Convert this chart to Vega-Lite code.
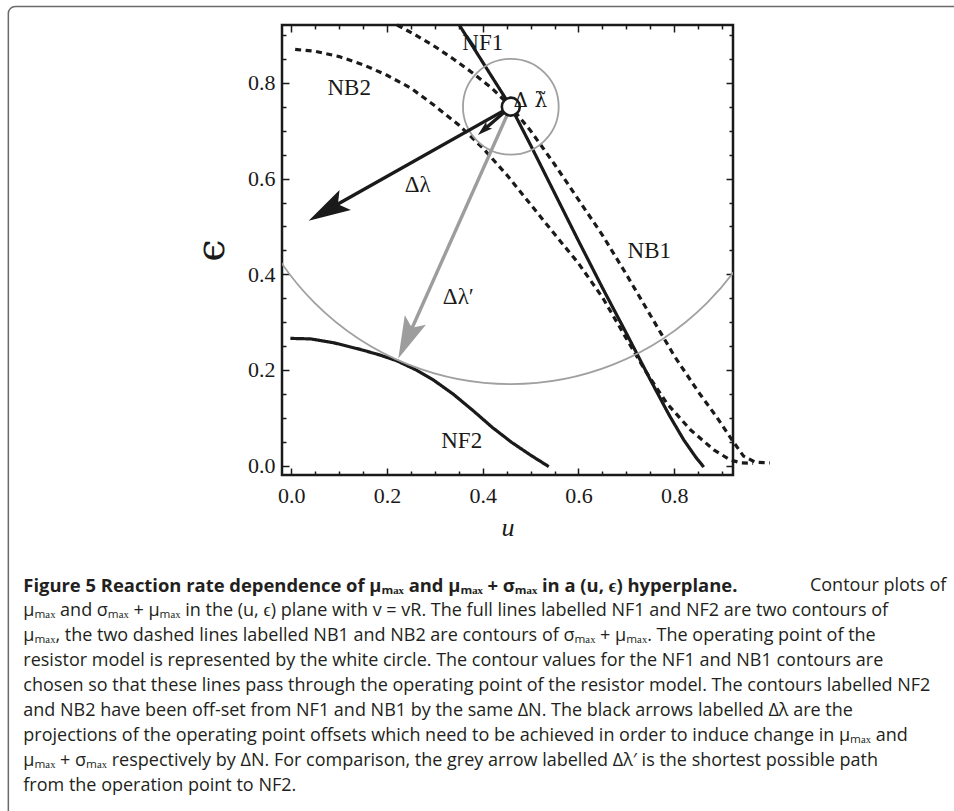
{
  "$schema": "https://vega.github.io/schema/vega-lite/v6.json",
  "width": 451,
  "height": 450,
  "autosize": {"type": "none"},
  "padding": {"left": 282, "top": 25, "right": 221, "bottom": 336},
  "background": "white",
  "config": {
    "view": {"stroke": "#1a1a1a", "strokeWidth": 2.5},
    "axis": {"grid": false, "domain": false}
  },
  "datasets": {
    "frame": [{"u1": -0.5914, "e1": 0.9597, "u2": 1.4, "e2": -0.76}],
    "curves": [
      {"curve": "NF1", "quantity": "μmax", "i": 0, "u": 0.351, "eps": 0.921},
      {"curve": "NF1", "quantity": "μmax", "i": 1, "u": 0.40, "eps": 0.843},
      {"curve": "NF1", "quantity": "μmax", "i": 2, "u": 0.4587, "eps": 0.7503},
      {"curve": "NF1", "quantity": "μmax", "i": 3, "u": 0.50, "eps": 0.670},
      {"curve": "NF1", "quantity": "μmax", "i": 4, "u": 0.55, "eps": 0.570},
      {"curve": "NF1", "quantity": "μmax", "i": 5, "u": 0.60, "eps": 0.470},
      {"curve": "NF1", "quantity": "μmax", "i": 6, "u": 0.65, "eps": 0.372},
      {"curve": "NF1", "quantity": "μmax", "i": 7, "u": 0.70, "eps": 0.277},
      {"curve": "NF1", "quantity": "μmax", "i": 8, "u": 0.75, "eps": 0.180},
      {"curve": "NF1", "quantity": "μmax", "i": 9, "u": 0.79, "eps": 0.105},
      {"curve": "NF1", "quantity": "μmax", "i": 10, "u": 0.82, "eps": 0.054},
      {"curve": "NF1", "quantity": "μmax", "i": 11, "u": 0.845, "eps": 0.018},
      {"curve": "NF1", "quantity": "μmax", "i": 12, "u": 0.862, "eps": -0.003},
      {"curve": "NF2", "quantity": "μmax", "i": 0, "u": -0.002, "eps": 0.266},
      {"curve": "NF2", "quantity": "μmax", "i": 1, "u": 0.04, "eps": 0.265},
      {"curve": "NF2", "quantity": "μmax", "i": 2, "u": 0.088, "eps": 0.257},
      {"curve": "NF2", "quantity": "μmax", "i": 3, "u": 0.144, "eps": 0.243},
      {"curve": "NF2", "quantity": "μmax", "i": 4, "u": 0.186, "eps": 0.231},
      {"curve": "NF2", "quantity": "μmax", "i": 5, "u": 0.221, "eps": 0.219},
      {"curve": "NF2", "quantity": "μmax", "i": 6, "u": 0.263, "eps": 0.199},
      {"curve": "NF2", "quantity": "μmax", "i": 7, "u": 0.297, "eps": 0.179},
      {"curve": "NF2", "quantity": "μmax", "i": 8, "u": 0.339, "eps": 0.149},
      {"curve": "NF2", "quantity": "μmax", "i": 9, "u": 0.381, "eps": 0.114},
      {"curve": "NF2", "quantity": "μmax", "i": 10, "u": 0.42, "eps": 0.080},
      {"curve": "NF2", "quantity": "μmax", "i": 11, "u": 0.46, "eps": 0.049},
      {"curve": "NF2", "quantity": "μmax", "i": 12, "u": 0.50, "eps": 0.022},
      {"curve": "NF2", "quantity": "μmax", "i": 13, "u": 0.538, "eps": -0.002},
      {"curve": "NB2", "quantity": "μmax+σmax", "i": 0, "u": 0.008, "eps": 0.870},
      {"curve": "NB2", "quantity": "μmax+σmax", "i": 1, "u": 0.05, "eps": 0.866},
      {"curve": "NB2", "quantity": "μmax+σmax", "i": 2, "u": 0.10, "eps": 0.855},
      {"curve": "NB2", "quantity": "μmax+σmax", "i": 3, "u": 0.15, "eps": 0.838},
      {"curve": "NB2", "quantity": "μmax+σmax", "i": 4, "u": 0.20, "eps": 0.816},
      {"curve": "NB2", "quantity": "μmax+σmax", "i": 5, "u": 0.25, "eps": 0.789},
      {"curve": "NB2", "quantity": "μmax+σmax", "i": 6, "u": 0.30, "eps": 0.752},
      {"curve": "NB2", "quantity": "μmax+σmax", "i": 7, "u": 0.35, "eps": 0.712},
      {"curve": "NB2", "quantity": "μmax+σmax", "i": 8, "u": 0.40, "eps": 0.664},
      {"curve": "NB2", "quantity": "μmax+σmax", "i": 9, "u": 0.45, "eps": 0.608},
      {"curve": "NB2", "quantity": "μmax+σmax", "i": 10, "u": 0.50, "eps": 0.546},
      {"curve": "NB2", "quantity": "μmax+σmax", "i": 11, "u": 0.55, "eps": 0.484},
      {"curve": "NB2", "quantity": "μmax+σmax", "i": 12, "u": 0.60, "eps": 0.423},
      {"curve": "NB2", "quantity": "μmax+σmax", "i": 13, "u": 0.65, "eps": 0.352},
      {"curve": "NB2", "quantity": "μmax+σmax", "i": 14, "u": 0.70, "eps": 0.266},
      {"curve": "NB2", "quantity": "μmax+σmax", "i": 15, "u": 0.74, "eps": 0.198},
      {"curve": "NB2", "quantity": "μmax+σmax", "i": 16, "u": 0.785, "eps": 0.130},
      {"curve": "NB2", "quantity": "μmax+σmax", "i": 17, "u": 0.834, "eps": 0.075},
      {"curve": "NB2", "quantity": "μmax+σmax", "i": 18, "u": 0.883, "eps": 0.033},
      {"curve": "NB2", "quantity": "μmax+σmax", "i": 19, "u": 0.917, "eps": 0.012},
      {"curve": "NB2", "quantity": "μmax+σmax", "i": 20, "u": 0.94, "eps": 0.006},
      {"curve": "NB2", "quantity": "μmax+σmax", "i": 21, "u": 0.965, "eps": 0.005},
      {"curve": "NB1", "quantity": "μmax+σmax", "i": 0, "u": 0.221, "eps": 0.921},
      {"curve": "NB1", "quantity": "μmax+σmax", "i": 1, "u": 0.26, "eps": 0.900},
      {"curve": "NB1", "quantity": "μmax+σmax", "i": 2, "u": 0.30, "eps": 0.876},
      {"curve": "NB1", "quantity": "μmax+σmax", "i": 3, "u": 0.34, "eps": 0.849},
      {"curve": "NB1", "quantity": "μmax+σmax", "i": 4, "u": 0.38, "eps": 0.820},
      {"curve": "NB1", "quantity": "μmax+σmax", "i": 5, "u": 0.42, "eps": 0.788},
      {"curve": "NB1", "quantity": "μmax+σmax", "i": 6, "u": 0.4587, "eps": 0.7503},
      {"curve": "NB1", "quantity": "μmax+σmax", "i": 7, "u": 0.50, "eps": 0.700},
      {"curve": "NB1", "quantity": "μmax+σmax", "i": 8, "u": 0.55, "eps": 0.630},
      {"curve": "NB1", "quantity": "μmax+σmax", "i": 9, "u": 0.60, "eps": 0.556},
      {"curve": "NB1", "quantity": "μmax+σmax", "i": 10, "u": 0.65, "eps": 0.482},
      {"curve": "NB1", "quantity": "μmax+σmax", "i": 11, "u": 0.70, "eps": 0.400},
      {"curve": "NB1", "quantity": "μmax+σmax", "i": 12, "u": 0.75, "eps": 0.315},
      {"curve": "NB1", "quantity": "μmax+σmax", "i": 13, "u": 0.80, "eps": 0.230},
      {"curve": "NB1", "quantity": "μmax+σmax", "i": 14, "u": 0.85, "eps": 0.155},
      {"curve": "NB1", "quantity": "μmax+σmax", "i": 15, "u": 0.89, "eps": 0.100},
      {"curve": "NB1", "quantity": "μmax+σmax", "i": 16, "u": 0.92, "eps": 0.055},
      {"curve": "NB1", "quantity": "μmax+σmax", "i": 17, "u": 0.945, "eps": 0.020},
      {"curve": "NB1", "quantity": "μmax+σmax", "i": 18, "u": 0.97, "eps": 0.007},
      {"curve": "NB1", "quantity": "μmax+σmax", "i": 19, "u": 1.0, "eps": 0.006}
    ],
    "op": [{"u": 0.4587, "eps": 0.7503}],
    "arrows": [
      {"arrow": "long", "u0": 0.4587, "e0": 0.7503, "u1": 0.0817, "e1": 0.538, "tu": 0.0362, "te": 0.512},
      {"arrow": "short", "u0": 0.4587, "e0": 0.7503, "u1": 0.4023, "e1": 0.7022, "tu": 0.3898, "te": 0.691},
      {"arrow": "grey", "u0": 0.4587, "e0": 0.7503, "u1": 0.2454, "e1": 0.2721, "tu": 0.2236, "te": 0.2241}
    ],
    "labels": [
      {"text": "NB2", "u": 0.121, "eps": 0.789},
      {"text": "NF1", "u": 0.400, "eps": 0.883},
      {"text": "Δλ", "u": 0.264, "eps": 0.587},
      {"text": "NB1", "u": 0.748, "eps": 0.448},
      {"text": "Δλ′", "u": 0.349, "eps": 0.352},
      {"text": "NF2", "u": 0.356, "eps": 0.051}
    ],
    "opLabel": [
      {"text": "Δ λ̃", "u": 0.4995, "eps": 0.762}
    ],
    "captionBold": [
      {"text": "Figure 5 Reaction rate dependence of μₘₐₓ and μₘₐₓ + σₘₐₓ in a (u, ϵ) hyperplane.", "u": -0.5601, "eps": -0.2514}
    ],
    "captionEnd": [
      {"text": "Contour plots of", "u": 1.369, "eps": -0.2514}
    ],
    "caption": [
      {"text": "μₘₐₓ and σₘₐₓ + μₘₐₓ in the (u, ϵ) plane with v = vR. The full lines labelled NF1 and NF2 are two contours of", "u": -0.5601, "eps": -0.3037},
      {"text": "μₘₐₓ, the two dashed lines labelled NB1 and NB2 are contours of σₘₐₓ + μₘₐₓ. The operating point of the", "u": -0.5601, "eps": -0.3559},
      {"text": "resistor model is represented by the white circle. The contour values for the NF1 and NB1 contours are", "u": -0.5601, "eps": -0.4082},
      {"text": "chosen so that these lines pass through the operating point of the resistor model. The contours labelled NF2", "u": -0.5601, "eps": -0.4604},
      {"text": "and NB2 have been off-set from NF1 and NB1 by the same ΔN. The black arrows labelled Δλ are the", "u": -0.5601, "eps": -0.5126},
      {"text": "projections of the operating point offsets which need to be achieved in order to induce change in μₘₐₓ and", "u": -0.5601, "eps": -0.5649},
      {"text": "μₘₐₓ + σₘₐₓ respectively by ΔN. For comparison, the grey arrow labelled Δλ′ is the shortest possible path", "u": -0.5601, "eps": -0.6171},
      {"text": "from the operation point to NF2.", "u": -0.5601, "eps": -0.6694}
    ]
  },
  "resolve": {"axis": {"x": "independent", "y": "independent"}},
  "layer": [
    {
      "data": {"name": "frame"},
      "mark": {"type": "rect", "fillOpacity": 0, "fill": "white", "stroke": "#6a6a6a", "strokeWidth": 1.5, "cornerRadius": 7, "clip": false},
      "encoding": {
        "x": {"field": "u1", "type": "quantitative",
          "scale": {"domain": [-0.0195, 0.923], "nice": false, "zero": false},
          "axis": {"orient": "bottom", "values": [0, 0.2, 0.4, 0.6, 0.8],
            "tickSize": -7, "tickWidth": 1.5, "tickColor": "#1a1a1a", "format": ".1f",
            "labelFont": "Liberation Serif", "labelFontSize": 22, "labelColor": "#1a1a1a", "labelPadding": 17,
            "labelFlush": false, "labelOverlap": false, "labelBound": false,
            "title": "u", "titleFont": "Liberation Serif", "titleFontStyle": "italic", "titleFontWeight": "normal",
            "titleFontSize": 26, "titleColor": "#1a1a1a", "titlePadding": 8}},
        "x2": {"field": "u2"},
        "y": {"field": "e1", "type": "quantitative",
          "scale": {"domain": [-0.0195, 0.921], "nice": false, "zero": false},
          "axis": {"orient": "left", "values": [0, 0.2, 0.4, 0.6, 0.8],
            "tickSize": -7, "tickWidth": 1.5, "tickColor": "#1a1a1a", "format": ".1f",
            "labelFont": "Liberation Serif", "labelFontSize": 22, "labelColor": "#1a1a1a", "labelPadding": 14,
            "labelFlush": false, "labelOverlap": false, "labelBound": false,
            "title": "ϵ", "titleFont": "DejaVu Serif", "titleFontWeight": "normal",
            "titleFontSize": 40, "titleColor": "#1a1a1a", "titlePadding": 16}},
        "y2": {"field": "e2"}
      }
    },
    {
      "data": {"name": "curves"},
      "mark": {"type": "line", "color": "#1a1a1a", "strokeWidth": 3.2, "clip": false, "strokeCap": "butt"},
      "encoding": {
        "x": {"field": "u", "type": "quantitative",
          "scale": {"domain": [-0.0195, 0.923], "nice": false, "zero": false},
          "axis": {"orient": "top", "values": [0, 0.2, 0.4, 0.6, 0.8],
            "tickSize": -7, "tickWidth": 1.5, "tickColor": "#1a1a1a", "labels": false, "title": null}},
        "y": {"field": "eps", "type": "quantitative",
          "scale": {"domain": [-0.0195, 0.921], "nice": false, "zero": false},
          "axis": {"orient": "right", "values": [0, 0.2, 0.4, 0.6, 0.8],
            "tickSize": -7, "tickWidth": 1.5, "tickColor": "#1a1a1a", "labels": false, "title": null}},
        "detail": {"field": "curve"},
        "order": {"field": "i", "type": "quantitative"},
        "strokeDash": {"field": "quantity", "type": "nominal",
          "scale": {"domain": ["μmax", "μmax+σmax"], "range": [[1, 0], [6, 4.5]]}, "legend": null}
      }
    },
    {
      "data": {"name": "op"},
      "mark": {"type": "point", "shape": "circle", "size": 308000, "filled": false, "stroke": "#a0a0a0", "strokeWidth": 1.8, "opacity": 1, "clip": true},
      "encoding": {
        "x": {"field": "u", "type": "quantitative",
          "scale": {"domain": [-0.0195, 0.923], "nice": false, "zero": false},
          "axis": {"orient": "bottom", "values": [0.05, 0.1, 0.15, 0.25, 0.3, 0.35, 0.45, 0.5, 0.55, 0.65, 0.7, 0.75, 0.85, 0.9],
            "tickSize": -4, "tickWidth": 1.5, "tickColor": "#1a1a1a", "labels": false, "title": null}},
        "y": {"field": "eps", "type": "quantitative",
          "scale": {"domain": [-0.0195, 0.921], "nice": false, "zero": false},
          "axis": {"orient": "left", "values": [0.05, 0.1, 0.15, 0.25, 0.3, 0.35, 0.45, 0.5, 0.55, 0.65, 0.7, 0.75, 0.85, 0.9],
            "tickSize": -4, "tickWidth": 1.5, "tickColor": "#1a1a1a", "labels": false, "title": null}}
      }
    },
    {
      "data": {"name": "op"},
      "mark": {"type": "point", "shape": "circle", "size": 9158, "filled": false, "stroke": "#a0a0a0", "strokeWidth": 1.8, "opacity": 1, "clip": false},
      "encoding": {
        "x": {"field": "u", "type": "quantitative",
          "scale": {"domain": [-0.0195, 0.923], "nice": false, "zero": false},
          "axis": {"orient": "top", "values": [0.05, 0.1, 0.15, 0.25, 0.3, 0.35, 0.45, 0.5, 0.55, 0.65, 0.7, 0.75, 0.85, 0.9],
            "tickSize": -4, "tickWidth": 1.5, "tickColor": "#1a1a1a", "labels": false, "title": null}},
        "y": {"field": "eps", "type": "quantitative",
          "scale": {"domain": [-0.0195, 0.921], "nice": false, "zero": false},
          "axis": {"orient": "right", "values": [0.05, 0.1, 0.15, 0.25, 0.3, 0.35, 0.45, 0.5, 0.55, 0.65, 0.7, 0.75, 0.85, 0.9],
            "tickSize": -4, "tickWidth": 1.5, "tickColor": "#1a1a1a", "labels": false, "title": null}}
      }
    },
    {
      "data": {"name": "arrows"},
      "transform": [{"filter": "datum.arrow == 'grey'"}],
      "mark": {"type": "rule", "color": "#9d9d9d", "strokeWidth": 3.4, "strokeCap": "butt"},
      "encoding": {
        "x": {"field": "u0", "type": "quantitative", "axis": null},
        "y": {"field": "e0", "type": "quantitative", "axis": null},
        "x2": {"field": "u1"},
        "y2": {"field": "e1"}
      }
    },
    {
      "data": {"name": "arrows"},
      "transform": [{"filter": "datum.arrow != 'grey'"}],
      "mark": {"type": "rule", "color": "#1a1a1a", "strokeWidth": 3.4, "strokeCap": "butt"},
      "encoding": {
        "x": {"field": "u0", "type": "quantitative", "axis": null},
        "y": {"field": "e0", "type": "quantitative", "axis": null},
        "x2": {"field": "u1"},
        "y2": {"field": "e1"}
      }
    },
    {
      "data": {"name": "arrows"},
      "transform": [{"filter": "datum.arrow == 'long'"}],
      "mark": {"type": "point", "shape": "M0,0 L0.55,2 L0,1.6 L-0.55,2 Z", "size": 1764, "angle": 240.5, "filled": true, "color": "#1a1a1a", "opacity": 1, "strokeWidth": 0},
      "encoding": {
        "x": {"field": "tu", "type": "quantitative", "axis": null},
        "y": {"field": "te", "type": "quantitative", "axis": null}
      }
    },
    {
      "data": {"name": "arrows"},
      "transform": [{"filter": "datum.arrow == 'short'"}],
      "mark": {"type": "point", "shape": "M0,0 L0.6,2 L0,1.6 L-0.6,2 Z", "size": 225, "angle": 228.9, "filled": true, "color": "#1a1a1a", "opacity": 1, "strokeWidth": 0},
      "encoding": {
        "x": {"field": "tu", "type": "quantitative", "axis": null},
        "y": {"field": "te", "type": "quantitative", "axis": null}
      }
    },
    {
      "data": {"name": "arrows"},
      "transform": [{"filter": "datum.arrow == 'grey'"}],
      "mark": {"type": "point", "shape": "M0,0 L0.55,2 L0,1.6 L-0.55,2 Z", "size": 1764, "angle": 203.9, "filled": true, "color": "#9d9d9d", "opacity": 1, "strokeWidth": 0},
      "encoding": {
        "x": {"field": "tu", "type": "quantitative", "axis": null},
        "y": {"field": "te", "type": "quantitative", "axis": null}
      }
    },
    {
      "data": {"name": "op"},
      "mark": {"type": "point", "shape": "circle", "size": 324, "filled": true, "fill": "white", "stroke": "#1a1a1a", "strokeWidth": 2.6, "opacity": 1},
      "encoding": {
        "x": {"field": "u", "type": "quantitative", "axis": null},
        "y": {"field": "eps", "type": "quantitative", "axis": null}
      }
    },
    {
      "data": {"name": "labels"},
      "mark": {"type": "text", "font": "Liberation Serif", "fontSize": 23, "color": "#1a1a1a", "align": "center", "baseline": "middle"},
      "encoding": {
        "x": {"field": "u", "type": "quantitative", "axis": null},
        "y": {"field": "eps", "type": "quantitative", "axis": null},
        "text": {"field": "text"}
      }
    },
    {
      "data": {"name": "opLabel"},
      "mark": {"type": "text", "font": "DejaVu Serif", "fontSize": 20, "color": "#1a1a1a", "align": "center", "baseline": "middle"},
      "encoding": {
        "x": {"field": "u", "type": "quantitative", "axis": null},
        "y": {"field": "eps", "type": "quantitative", "axis": null},
        "text": {"field": "text"}
      }
    },
    {
      "data": {"name": "captionBold"},
      "mark": {"type": "text", "font": "Open Sans", "fontSize": 18.4, "fontWeight": "bold", "color": "#231f20", "align": "left", "baseline": "middle", "clip": false},
      "encoding": {
        "x": {"field": "u", "type": "quantitative", "axis": null},
        "y": {"field": "eps", "type": "quantitative", "axis": null},
        "text": {"field": "text"}
      }
    },
    {
      "data": {"name": "captionEnd"},
      "mark": {"type": "text", "font": "Open Sans", "fontSize": 18, "color": "#231f20", "align": "right", "baseline": "middle", "clip": false},
      "encoding": {
        "x": {"field": "u", "type": "quantitative", "axis": null},
        "y": {"field": "eps", "type": "quantitative", "axis": null},
        "text": {"field": "text"}
      }
    },
    {
      "data": {"name": "caption"},
      "mark": {"type": "text", "font": "Open Sans", "fontSize": 18, "color": "#231f20", "align": "left", "baseline": "middle", "clip": false},
      "encoding": {
        "x": {"field": "u", "type": "quantitative", "axis": null},
        "y": {"field": "eps", "type": "quantitative", "axis": null},
        "text": {"field": "text"}
      }
    }
  ]
}
